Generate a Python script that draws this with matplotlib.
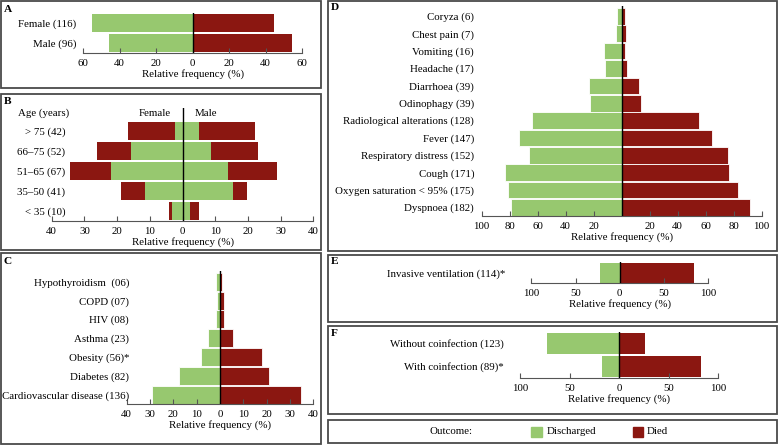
import numpy as np
import matplotlib
matplotlib.use("Agg")
import matplotlib.pyplot as plt
from matplotlib.patches import Rectangle
from matplotlib.ticker import FuncFormatter

plt.rcParams['font.family'] = ['Liberation Serif', 'DejaVu Serif']
plt.rcParams['font.size'] = 7.8

GREEN = '#97c86f'
RED = '#8b1711'
GREY = '#555555'

# --- data (top to bottom as drawn) ---
sex_labels = ['Female (116)', 'Male (96)']
sex_discharged = [55.3, 45.8]
sex_died = [44.7, 54.4]

age_labels = ['> 75 (42)', '66\u201375 (52)', '51\u201365 (67)', '35\u201350 (41)', '< 35 (10)']
age_female_discharged = [2.3, 15.6, 21.9, 11.4, 3.1]
age_female_died = [14.3, 10.5, 12.6, 7.3, 1.1]
age_male_discharged = [5.1, 8.8, 13.8, 15.3, 2.4]
age_male_died = [17.1, 14.3, 15.2, 4.4, 2.5]

comorb_labels = ['Hypothyroidism  (06)', 'COPD (07)', 'HIV (08)', 'Asthma (23)',
                 'Obesity (56)*', 'Diabetes (82)', 'Cardiovascular disease (136)']
comorb_discharged = [1.6, 1.3, 1.7, 5.3, 8.3, 17.7, 29.2]
comorb_died = [1.0, 1.9, 1.9, 5.6, 18.0, 20.9, 34.9]

symp_labels = ['Coryza (6)', 'Chest pain (7)', 'Vomiting (16)', 'Headache (17)',
               'Diarrhoea (39)', 'Odinophagy (39)', 'Radiological alterations (128)',
               'Fever (147)', 'Respiratory distress (152)', 'Cough (171)',
               'Oxygen saturation < 95% (175)', 'Dyspnoea (182)']
symp_discharged = [3.1, 4.3, 12.6, 11.7, 23.3, 22.6, 64.0, 73.1, 66.0, 83.1, 81.2, 79.0]
symp_died = [2.4, 3.1, 2.4, 4.0, 12.6, 13.6, 55.0, 64.8, 75.7, 76.7, 83.3, 91.7]

vent_labels = ['Invasive ventilation (114)*']
vent_discharged = [22.7]
vent_died = [84.1]

coinf_labels = ['Without coinfection (123)', 'With coinfection (89)*']
coinf_discharged = [72.7, 16.8]
coinf_died = [26.3, 82.5]

W, H = 778, 445
fig = plt.figure(figsize=(W / 100, H / 100), dpi=100)


def px_axes(l, r, t, b):
    return fig.add_axes([l / W, 1 - b / H, (r - l) / W, (b - t) / H])


def px_box(l, t, r, b):
    fig.patches.append(Rectangle((l / W, 1 - b / H), (r - l) / W, (b - t) / H,
                                 transform=fig.transFigure, fill=False,
                                 edgecolor='#4a4a4a', linewidth=1.3))


def style(ax, lim, ticks, labels, ypad, skip_zero=False):
    for s in ['top', 'right', 'left']:
        ax.spines[s].set_visible(False)
    ax.spines['bottom'].set_color(GREY)
    ax.set_xlim(-lim, lim)
    ax.set_xticks(ticks)
    fmt = lambda v, p: '' if (skip_zero and v == 0) else '%d' % abs(v)
    ax.xaxis.set_major_formatter(FuncFormatter(fmt))
    ax.tick_params(axis='x', direction='in', length=3.5, color=GREY, pad=4.3)
    n = len(labels)
    ax.set_yticks(np.arange(n)[::-1])
    ax.set_yticklabels(labels)
    ax.tick_params(axis='y', length=0, pad=ypad)
    ax.set_xlabel('Relative frequency (%)', labelpad=1)
    ax.axvline(0, color='black', linewidth=1, zorder=5)


def pyramid(ax, dis, died, height, edge='none'):
    y = np.arange(len(dis))[::-1]
    ax.barh(y, -np.array(dis), height=height, color=GREEN, edgecolor=edge, linewidth=0.6)
    ax.barh(y, died, height=height, color=RED, edgecolor=edge, linewidth=0.6)


# panel boxes
px_box(1, 1, 321, 88)
px_box(1, 94, 321, 250)
px_box(1, 253, 321, 444)
px_box(328, 1, 777, 251)
px_box(328, 255, 777, 322)
px_box(328, 326, 777, 414)
px_box(328, 420, 777, 443)

# A
axA = px_axes(83, 302, 13, 53)
pyramid(axA, sex_discharged, sex_died, 0.9)
style(axA, 60, [-60, -40, -20, 0, 20, 40, 60], sex_labels, 5)
axA.set_ylim(-0.5, 1.5)

# B
axB = px_axes(51.7, 313.3, 108, 221)
yB = np.arange(len(age_labels))[::-1]
axB.barh(yB, -np.array(age_female_discharged), height=0.88, color=GREEN)
axB.barh(yB, -np.array(age_female_died), left=-np.array(age_female_discharged), height=0.88, color=RED)
axB.barh(yB, age_male_discharged, height=0.88, color=GREEN)
axB.barh(yB, age_male_died, left=age_male_discharged, height=0.88, color=RED)
style(axB, 40, np.arange(-40, 41, 10), age_labels, -9.6)
axB.set_ylim(-0.5, 5.15)
axB.text(-3.6, 4.9, 'Female', ha='right', va='center')
axB.text(3.6, 4.9, 'Male', ha='left', va='center')
fig.text(69 / W, 1 - 113 / H, 'Age (years)', ha='right', va='center')

# C
axC = px_axes(126.7, 313.3, 270.5, 404)
pyramid(axC, comorb_discharged, comorb_died, 0.96, edge='white')
style(axC, 40, np.arange(-40, 41, 10), comorb_labels, -1.7)
axC.set_ylim(-0.5, 6.6)

# D
axD = px_axes(481.7, 761.7, 6, 216)
pyramid(axD, symp_discharged, symp_died, 0.96, edge='white')
style(axD, 100, np.arange(-100, 101, 20), symp_labels, 5.5, skip_zero=True)
axD.set_ylim(-0.5, 11.6)

# E
axE = px_axes(531.3, 708.3, 262, 283)
pyramid(axE, vent_discharged, vent_died, 0.98)
style(axE, 100, [-100, -50, 0, 50, 100], vent_labels, 18.7)
axE.set_ylim(-0.5, 0.52)

# F
axF = px_axes(520, 718.3, 331.7, 377.7)
pyramid(axF, coinf_discharged, coinf_died, 0.9)
style(axF, 100, [-100, -50, 0, 50, 100], coinf_labels, 12)
axF.set_ylim(-0.5, 1.5)

# panel letters
for letter, (x, y) in zip('ABCDEF', [(4, 9), (4, 101), (4, 261), (331, 8), (331, 262), (331, 333)]):
    fig.text(x / W, 1 - y / H, letter, fontweight='bold', ha='left', va='center', fontsize=8.2)

# legend
fig.text(430 / W, 1 - 432 / H, 'Outcome:', ha='left', va='center')
fig.patches.append(Rectangle((531 / W, 1 - 437 / H), 11 / W, 10 / H,
                             transform=fig.transFigure, color=GREEN))
fig.text(547 / W, 1 - 432 / H, 'Discharged', ha='left', va='center')
fig.patches.append(Rectangle((633 / W, 1 - 437 / H), 10 / W, 10 / H,
                             transform=fig.transFigure, color=RED))
fig.text(647 / W, 1 - 432 / H, 'Died', ha='left', va='center')

fig.savefig('out.png', dpi=100)
